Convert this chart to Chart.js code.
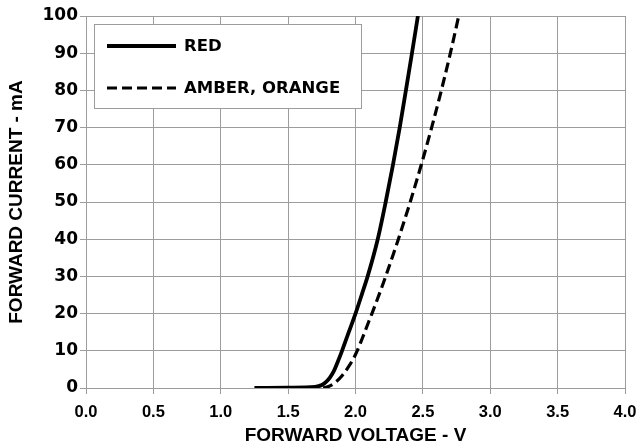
<!DOCTYPE html>
<html>
<head>
<meta charset="utf-8">
<script src="https://cdn.jsdelivr.net/npm/chart.js@4/dist/chart.umd.min.js"></script>
<style>
  body { margin: 0; background: #fff; }
  #wrap { width: 639px; height: 447px; }
</style>
</head>
<body>
<div id="wrap"><canvas id="ivChart" width="639" height="447"></canvas></div>
<script>
// forward voltage (V) vs forward current (mA)
var redVolts = [1.25, 1.5, 1.7, 1.75, 1.78, 1.81, 1.84, 1.87, 1.9, 1.95, 2.0, 2.05, 2.09, 2.165, 2.224, 2.278, 2.328, 2.374, 2.419, 2.463];
var redCurrent = [0, 0.1, 0.3, 0.8, 1.6, 2.8, 4.6, 7.2, 10, 15, 20, 25.5, 30, 40, 50, 60, 70, 80, 90, 100];

var amberVolts = [1.76, 1.8, 1.85, 1.9, 1.95, 2.0, 2.05, 2.1, 2.122, 2.224, 2.318, 2.406, 2.488, 2.565, 2.637, 2.704, 2.766];
var amberCurrent = [0, 0.4, 1.5, 3.3, 5.8, 9, 13.3, 18, 20, 30, 40, 50, 60, 70, 80, 90, 100];

var seriesNames = ['RED', 'AMBER, ORANGE'];
var xTitle = 'FORWARD VOLTAGE - V';
var yTitle = 'FORWARD CURRENT - mA';

function toPoints(xs, ys) {
  return xs.map(function (x, i) { return { x: x, y: ys[i] }; });
}

var gridColor = '#9c9c9c';
var arial = "'Liberation Sans', Arial, sans-serif";
var wide = "'DejaVu Sans', Verdana, sans-serif";

// legend drawn as a boxed panel inside the plot, like the original
var boxLegend = {
  id: 'boxLegend',
  afterDraw: function (chart) {
    var ctx = chart.ctx, area = chart.chartArea;
    var x0 = area.left + 8, y0 = area.top + 8, w = 267, h = 84;
    ctx.save();
    ctx.fillStyle = '#fff';
    ctx.fillRect(x0, y0, w, h);
    ctx.strokeStyle = gridColor;
    ctx.lineWidth = 1;
    ctx.strokeRect(x0 + 0.5, y0 + 0.5, w, h);
    chart.data.datasets.forEach(function (ds, i) {
      var y = y0 + 22 + i * 42;
      ctx.beginPath();
      ctx.setLineDash(ds.borderDash || []);
      ctx.lineWidth = ds.borderWidth;
      ctx.strokeStyle = ds.borderColor;
      ctx.moveTo(x0 + 13, y);
      ctx.lineTo(x0 + 82, y);
      ctx.stroke();
      ctx.setLineDash([]);
      ctx.fillStyle = '#000';
      ctx.font = 'bold 16.5px ' + wide;
      ctx.textBaseline = 'middle';
      ctx.fillText(ds.label, x0 + 90, y + 1);
    });
    ctx.restore();
  }
};

new Chart(document.getElementById('ivChart'), {
  type: 'line',
  data: {
    datasets: [{
      label: seriesNames[0],
      data: toPoints(redVolts, redCurrent),
      borderColor: '#000',
      borderWidth: 3.8,
      pointRadius: 0,
      cubicInterpolationMode: 'monotone',
      fill: false
    }, {
      label: seriesNames[1],
      data: toPoints(amberVolts, amberCurrent),
      borderColor: '#000',
      borderWidth: 3.2,
      borderDash: [10, 5],
      pointRadius: 0,
      cubicInterpolationMode: 'monotone',
      fill: false
    }]
  },
  plugins: [boxLegend],
  options: {
    responsive: false,
    animation: false,
    layout: { padding: { top: 16, right: 14, left: 0, bottom: 0 } },
    plugins: { legend: { display: false }, tooltip: { enabled: false } },
    scales: {
      x: {
        type: 'linear',
        min: 0, max: 4,
        afterFit: function (scale) {
          scale.height = 59;
          scale.paddingLeft = 0;
          scale.paddingRight = 0;
        },
        ticks: {
          stepSize: 0.5,
          padding: 9,
          color: '#000',
          font: { family: arial, size: 16.5, weight: 'bold' },
          callback: function (v) { return v.toFixed(1); }
        },
        grid: { color: gridColor, tickLength: 6 },
        border: { color: gridColor },
        title: {
          display: true,
          text: xTitle,
          color: '#000',
          font: { family: arial, size: 19, weight: 'bold' },
          padding: { top: 0, bottom: 0 }
        }
      },
      y: {
        min: 0, max: 100,
        afterFit: function (scale) {
          scale.width = 86;
          scale.paddingTop = 0;
          scale.paddingBottom = 0;
        },
        ticks: {
          stepSize: 10,
          padding: 2,
          color: '#000',
          font: { family: wide, size: 17, weight: 'bold' }
        },
        grid: { color: gridColor, tickLength: 6 },
        border: { color: gridColor },
        title: {
          display: true,
          text: yTitle,
          color: '#000',
          font: { family: arial, size: 19, weight: 'bold' },
          padding: { top: 5, bottom: 0 }
        }
      }
    }
  }
});
</script>
</body>
</html>
